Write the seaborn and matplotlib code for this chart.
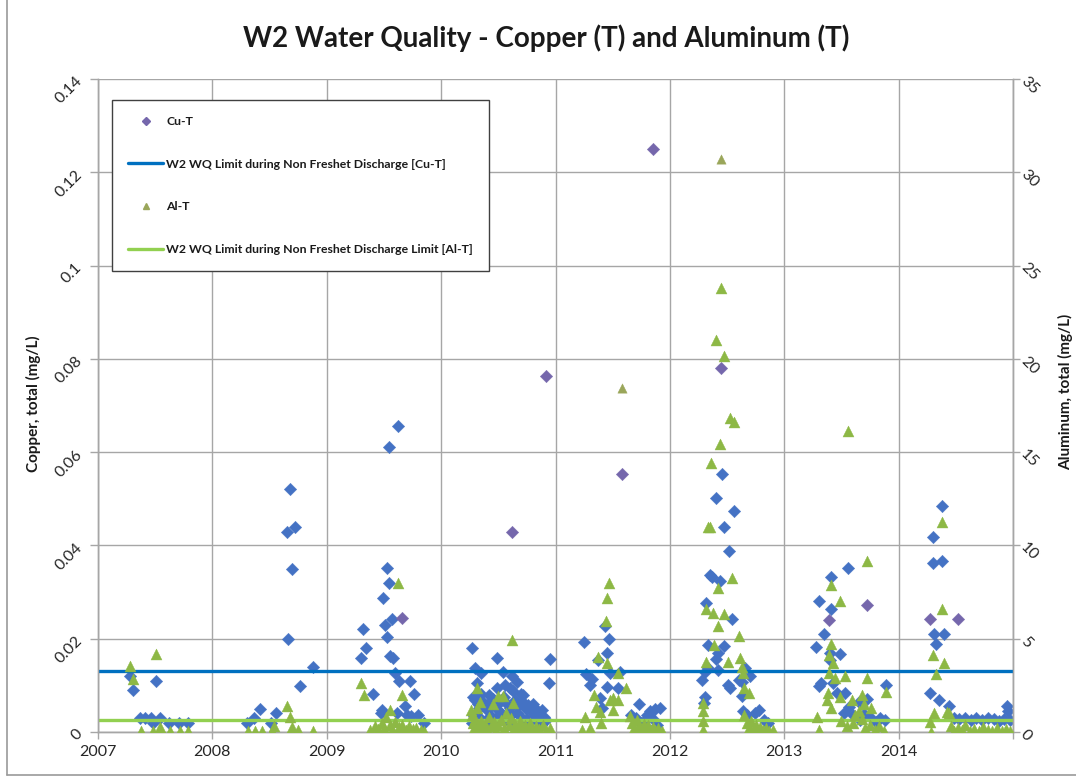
import matplotlib
matplotlib.use("Agg")
import matplotlib.pyplot as plt
from matplotlib.lines import Line2D
import seaborn as sns
import pandas as pd

# ---------------- data ----------------
# Copper, total (mg/L) - routine samples (blue diamonds)
cu_dates = [
    2007.28, 2007.31, 2007.51, 2007.37, 2007.41, 2007.46, 2007.54, 2007.48, 2007.62, 2007.71, 2007.79,
    2008.68, 2008.65, 2008.72, 2008.70, 2008.66, 2008.88, 2008.77, 2008.42, 2008.36, 2008.30, 2008.51, 2008.56,
    2009.62, 2009.54, 2009.53, 2009.54, 2009.49, 2009.57, 2009.51, 2009.32, 2009.53, 2009.34, 2009.30, 2009.55,
    2009.58, 2009.60, 2009.63, 2009.73, 2009.76, 2009.40, 2009.68, 2009.48, 2009.47, 2009.61, 2009.70, 2009.80,
    2009.74, 2009.85,
    2010.27, 2010.49, 2010.95, 2010.30, 2010.54, 2010.35, 2010.62, 2010.66, 2010.94, 2010.31, 2010.56, 2010.49,
    2010.70, 2010.35, 2010.42, 2010.28, 2010.30, 2010.32, 2010.33, 2010.36, 2010.38, 2010.40, 2010.43, 2010.45,
    2010.47, 2010.50, 2010.52, 2010.55, 2010.58, 2010.60, 2010.63, 2010.65, 2010.68, 2010.72, 2010.74, 2010.76,
    2010.79, 2010.81, 2010.84, 2010.86, 2010.88, 2010.90, 2010.92, 2010.29, 2010.34, 2010.39, 2010.44, 2010.48,
    2010.53, 2010.57, 2010.61, 2010.66, 2010.70, 2010.75, 2010.80, 2010.85, 2010.27, 2010.41, 2010.59, 2010.73,
    2010.87, 2010.60, 2010.72, 2010.80,
    2011.43, 2011.25, 2011.47, 2011.45, 2011.37, 2011.27, 2011.48, 2011.56, 2011.32, 2011.30, 2011.45, 2011.55,
    2011.39, 2011.41, 2011.73, 2011.66, 2011.80, 2011.87, 2011.91, 2011.83, 2011.78, 2011.70, 2011.75, 2011.85,
    2011.89,
    2012.46, 2012.40, 2012.56, 2012.47, 2012.52, 2012.35, 2012.37, 2012.44, 2012.32, 2012.54, 2012.33, 2012.47,
    2012.42, 2012.40, 2012.33, 2012.31, 2012.28, 2012.42, 2012.66, 2012.70, 2012.60, 2012.63, 2012.51, 2012.53,
    2012.63, 2012.31, 2012.30, 2012.64, 2012.67, 2012.78, 2012.74, 2012.86, 2012.82,
    2013.56, 2013.41, 2013.30, 2013.41, 2013.35, 2013.28, 2013.49, 2013.40, 2013.40, 2013.32, 2013.30, 2013.43,
    2013.46, 2013.53, 2013.72, 2013.57, 2013.65, 2013.89, 2013.52, 2013.60, 2013.66, 2013.70, 2013.76, 2013.80,
    2013.84, 2013.88,
    2014.38, 2014.30, 2014.30, 2014.38, 2014.31, 2014.40, 2014.33, 2014.27, 2014.35, 2014.44, 2014.48, 2014.53,
    2014.58, 2014.63, 2014.68, 2014.73, 2014.78, 2014.83, 2014.88, 2014.92, 2014.95, 2014.96, 2014.97,
]
cu_values = [
    0.0119, 0.0090, 0.0109, 0.0029, 0.0029, 0.0029, 0.0029, 0.0019, 0.0019, 0.0019, 0.0019,
    0.0520, 0.0428, 0.0439, 0.0349, 0.0199, 0.0139, 0.0099, 0.0049, 0.0031, 0.0019, 0.0019, 0.0040,
    0.0655, 0.0610, 0.0351, 0.0319, 0.0287, 0.0242, 0.0229, 0.0220, 0.0203, 0.0181, 0.0159, 0.0164,
    0.0159, 0.0126, 0.0109, 0.0109, 0.0081, 0.0081, 0.0056, 0.0047, 0.0040, 0.0040, 0.0036, 0.0036,
    0.0034, 0.0019,
    0.0181, 0.0159, 0.0157, 0.0138, 0.0129, 0.0126, 0.0119, 0.0108, 0.0104, 0.0104, 0.0101, 0.0094,
    0.0081, 0.0082, 0.0080, 0.0075, 0.0068, 0.0060, 0.0052, 0.0066, 0.0058, 0.0047, 0.0062, 0.0071,
    0.0055, 0.0048, 0.0066, 0.0074, 0.0060, 0.0052, 0.0088, 0.0069, 0.0057, 0.0064, 0.0049, 0.0058,
    0.0045, 0.0054, 0.0043, 0.0038, 0.0047, 0.0032, 0.0025, 0.0035, 0.0030, 0.0026, 0.0034, 0.0029,
    0.0038, 0.0031, 0.0036, 0.0040, 0.0033, 0.0028, 0.0030, 0.0022, 0.0020, 0.0018, 0.0021, 0.0017,
    0.0015, 0.0094, 0.0079, 0.0061,
    0.0228, 0.0194, 0.0199, 0.0170, 0.0154, 0.0124, 0.0126, 0.0129, 0.0113, 0.0101, 0.0097, 0.0095,
    0.0072, 0.0051, 0.0060, 0.0036, 0.0036, 0.0049, 0.0051, 0.0044, 0.0026, 0.0030, 0.0020, 0.0028,
    0.0015,
    0.0553, 0.0502, 0.0474, 0.0440, 0.0388, 0.0337, 0.0333, 0.0324, 0.0276, 0.0242, 0.0187, 0.0184,
    0.0169, 0.0156, 0.0137, 0.0129, 0.0111, 0.0133, 0.0137, 0.0120, 0.0111, 0.0107, 0.0101, 0.0094,
    0.0077, 0.0076, 0.0062, 0.0044, 0.0036, 0.0047, 0.0040, 0.0019, 0.0026,
    0.0352, 0.0332, 0.0281, 0.0263, 0.0210, 0.0182, 0.0167, 0.0169, 0.0154, 0.0104, 0.0099, 0.0106,
    0.0083, 0.0083, 0.0070, 0.0054, 0.0065, 0.0101, 0.0040, 0.0036, 0.0025, 0.0038, 0.0030, 0.0022,
    0.0030, 0.0026,
    0.0485, 0.0417, 0.0362, 0.0367, 0.0210, 0.0210, 0.0188, 0.0083, 0.0069, 0.0056, 0.0030, 0.0028,
    0.0030, 0.0026, 0.0029, 0.0025, 0.0030, 0.0027, 0.0024, 0.0028, 0.0056, 0.0044, 0.0026,
]

# Copper, total (mg/L) - Cu-T series (purple diamonds)
cut_dates = [2009.66, 2010.62, 2010.92, 2011.58, 2011.85, 2012.45, 2013.39, 2013.72, 2014.27, 2014.52]
cut_values = [0.0245, 0.0428, 0.0763, 0.0553, 0.1249, 0.0780, 0.0240, 0.0272, 0.0243, 0.0242]

# Aluminum, total (mg/L) - green triangles
al_dates = [
    2007.28, 2007.31, 2007.51, 2007.38, 2007.48, 2007.54, 2007.55, 2007.63, 2007.72, 2007.79,
    2008.65, 2008.68, 2008.70, 2008.75, 2008.54, 2008.31, 2008.37, 2008.43, 2008.52, 2008.88,
    2009.62, 2009.30, 2009.33, 2009.66, 2009.55, 2009.38, 2009.42, 2009.45, 2009.48, 2009.50, 2009.52,
    2009.55, 2009.57, 2009.60, 2009.63, 2009.66, 2009.69, 2009.72, 2009.75, 2009.78, 2009.82, 2009.85,
    2010.62, 2010.31, 2010.50, 2010.54, 2010.63, 2010.26, 2010.31, 2010.27, 2010.28, 2010.29, 2010.30,
    2010.32, 2010.33, 2010.35, 2010.36, 2010.38, 2010.40, 2010.42, 2010.44, 2010.46, 2010.48, 2010.50,
    2010.52, 2010.55, 2010.57, 2010.59, 2010.61, 2010.63, 2010.65, 2010.67, 2010.69, 2010.71, 2010.73,
    2010.76, 2010.78, 2010.80, 2010.83, 2010.86, 2010.89, 2010.92, 2010.95, 2010.34, 2010.45,
    2011.47, 2011.45, 2011.44, 2011.37, 2011.45, 2011.55, 2011.62, 2011.34, 2011.50, 2011.55, 2011.48,
    2011.35, 2011.39, 2011.50, 2011.26, 2011.40, 2011.23, 2011.30, 2011.65, 2011.67, 2011.69, 2011.71,
    2011.73, 2011.75, 2011.77, 2011.79, 2011.81, 2011.83, 2011.85, 2011.87, 2011.90, 2011.93,
    2012.45, 2012.40, 2012.47, 2012.53, 2012.56, 2012.44, 2012.36, 2012.33, 2012.35, 2012.54, 2012.42,
    2012.32, 2012.38, 2012.47, 2012.42, 2012.60, 2012.39, 2012.32, 2012.51, 2012.61, 2012.64, 2012.63,
    2012.65, 2012.69, 2012.29, 2012.29, 2012.29, 2012.29, 2012.65, 2012.67, 2012.69, 2012.71, 2012.73,
    2012.75, 2012.77, 2012.79, 2012.81, 2012.84, 2012.87, 2012.90,
    2013.56, 2013.72, 2013.41, 2013.49, 2013.41, 2013.39, 2013.43, 2013.39, 2013.53, 2013.72, 2013.44,
    2013.89, 2013.38, 2013.37, 2013.41, 2013.49, 2013.59, 2013.68, 2013.70, 2013.76, 2013.29, 2013.30,
    2013.62, 2013.60, 2013.68, 2013.71, 2013.75, 2013.79, 2013.83, 2013.87, 2013.50, 2013.55, 2013.65,
    2014.38, 2014.38, 2014.30, 2014.40, 2014.33, 2014.31, 2014.44, 2014.27, 2014.28, 2014.42, 2014.46,
    2014.48, 2014.52, 2014.55, 2014.58, 2014.62, 2014.66, 2014.70, 2014.74, 2014.78, 2014.82, 2014.86,
    2014.90, 2014.94, 2014.97,
]
al_values = [
    3.54, 2.82, 4.18, 0.05, 0.05, 0.29, 0.05, 0.05, 0.05, 0.05,
    1.39, 0.82, 0.25, 0.11, 0.32, 0.05, 0.05, 0.05, 0.05, 0.05,
    8.00, 2.61, 1.98, 1.98, 1.18, 0.10, 0.30, 0.15, 0.50, 0.20, 0.80,
    0.35, 0.10, 0.55, 0.25, 0.40, 0.10, 0.30, 0.15, 0.20, 0.10, 0.05,
    4.93, 2.37, 1.93, 1.93, 1.54, 1.18, 1.27, 0.90, 0.50, 0.20, 0.70,
    0.35, 0.10, 0.60, 0.25, 0.45, 0.15, 0.80, 0.30, 0.55, 0.10, 0.40,
    0.65, 0.20, 1.00, 0.35, 0.75, 0.10, 0.45, 0.25, 0.60, 0.15, 0.40,
    0.20, 0.50, 0.10, 0.30, 0.15, 0.35, 0.10, 0.20, 1.60, 1.50,
    8.00, 7.20, 5.95, 4.04, 3.68, 3.14, 2.34, 1.98, 1.80, 1.70, 1.70,
    1.36, 1.09, 1.18, 0.82, 0.46, 0.11, 0.20, 0.85, 0.50, 0.20, 0.65,
    0.30, 0.10, 0.45, 0.15, 0.35, 0.05, 0.25, 0.10, 0.20, 0.05,
    23.80, 21.00, 20.15, 16.84, 16.63, 15.43, 14.43, 10.97, 10.97, 8.27, 7.70,
    6.58, 6.36, 6.31, 5.68, 5.14, 4.66, 3.77, 3.77, 3.95, 3.14, 3.50,
    2.34, 2.07, 1.55, 1.10, 0.60, 0.10, 0.90, 0.50, 0.20, 0.60, 0.10,
    0.35, 0.05, 0.25, 0.10, 0.20, 0.05, 0.10,
    16.15, 9.18, 7.88, 7.02, 4.70, 4.13, 3.68, 3.14, 3.00, 2.88, 2.88,
    2.16, 2.10, 1.70, 1.30, 1.85, 1.70, 2.00, 1.50, 1.30, 0.82, 0.11,
    0.90, 0.50, 0.70, 0.20, 0.40, 0.10, 0.30, 0.05, 0.60, 0.30, 1.10,
    11.24, 6.57, 4.13, 3.68, 3.11, 1.00, 1.00, 0.55, 0.00, 1.09, 0.30,
    0.05, 0.20, 0.10, 0.35, 0.05, 0.15, 0.05, 0.25, 0.10, 0.05, 0.20,
    0.05, 0.15, 0.05,
]

# Aluminum, total (mg/L) - Al-T series (olive triangles)
alt_dates = [2011.58, 2012.45]
alt_values = [18.45, 30.70]

# Discharge limits
cu_limit = 0.013
al_limit = 0.65

year_ticks = [2007, 2008, 2009, 2010, 2011, 2012, 2013, 2014]
cu_ticks = [0, 0.02, 0.04, 0.06, 0.08, 0.1, 0.12, 0.14]
cu_tick_labels = ["0", "0.02", "0.04", "0.06", "0.08", "0.1", "0.12", "0.14"]
al_ticks = [0, 5, 10, 15, 20, 25, 30, 35]

labels = [
    "Cu-T",
    "W2 WQ Limit during Non Freshet Discharge [Cu-T]",
    "Al-T",
    "W2 WQ Limit during Non Freshet Discharge Limit [Al-T]",
]

# ---------------- style ----------------
sns.set_theme(style="white")
plt.rcParams["font.family"] = ["Lato", "DejaVu Sans"]

BLUE = "#4472C4"
PURPLE = "#7567AC"
GREEN = "#8DB845"
OLIVE = "#9AA65A"
CU_LINE = "#0070C0"
AL_LINE = "#92D050"
GRID = "#A6A6A6"

W, H = 1076, 777
fig = plt.figure(figsize=(W / 100, H / 100), dpi=100)
fig.patch.set_facecolor("white")

L, R, T, B = 98, 1013, 79, 732
ax = fig.add_axes([L / W, 1 - B / H, (R - L) / W, (B - T) / H])
ax2 = ax.twinx()

cu_df = pd.DataFrame({"date": cu_dates, "cu": cu_values})
cut_df = pd.DataFrame({"date": cut_dates, "cu": cut_values})
al_df = pd.DataFrame({"date": al_dates, "al": al_values})
alt_df = pd.DataFrame({"date": alt_dates, "al": alt_values})

# copper on the left axis
ax.axhline(cu_limit, color=CU_LINE, lw=2.4, zorder=3)
sns.scatterplot(data=cu_df, x="date", y="cu", ax=ax, marker="D", s=40,
                color=BLUE, edgecolor=BLUE, linewidth=0.3, zorder=2, legend=False)
sns.scatterplot(data=cut_df, x="date", y="cu", ax=ax, marker="D", s=40,
                color=PURPLE, edgecolor=PURPLE, linewidth=0.3, zorder=2, legend=False)

# aluminum on the right axis
ax2.axhline(al_limit, color=AL_LINE, lw=2.4, zorder=2)
sns.scatterplot(data=al_df, x="date", y="al", ax=ax2, marker="^", s=62,
                color=GREEN, edgecolor=GREEN, linewidth=0.3, zorder=3, legend=False)
sns.scatterplot(data=alt_df, x="date", y="al", ax=ax2, marker="^", s=45,
                color=OLIVE, edgecolor=OLIVE, linewidth=0.3, zorder=3, legend=False)

# axes limits and grid
ax.set_xlim(2007, 2015)
ax.set_ylim(0, 0.14)
ax2.set_ylim(0, 35)
ax.set_xticks(year_ticks + [2015])
ax.set_xticklabels([str(y) for y in year_ticks] + [""])
ax.set_yticks(cu_ticks)
ax.set_yticklabels(cu_tick_labels)
ax2.set_yticks(al_ticks)
ax2.set_yticklabels([str(v) for v in al_ticks])

ax.grid(True, color=GRID, lw=1.0)
ax.set_axisbelow(True)
ax.set_facecolor("white")
for a in (ax, ax2):
    for side in a.spines:
        a.spines[side].set_color(GRID)
        a.spines[side].set_linewidth(1.0)
    a.spines["top"].set_visible(False)
ax.set_xlabel("")
ax.set_ylabel("")
ax2.set_ylabel("")

ax.tick_params(axis="x", direction="out", length=5, width=1, color=GRID,
               labelsize=11.5, labelcolor="#262626", pad=4, bottom=True)
ax.tick_params(axis="y", direction="out", length=6, width=1, color=GRID,
               labelsize=11.5, labelcolor="#262626", pad=7, left=True)
ax2.tick_params(axis="y", direction="out", length=5, width=1, color=GRID,
                labelsize=11.5, labelcolor="#262626", pad=2, right=True)
for lab in ax.get_yticklabels():
    lab.set_rotation(45)
    lab.set_rotation_mode("anchor")
    lab.set_ha("right")
    lab.set_va("center")
for lab in ax2.get_yticklabels():
    lab.set_rotation(-45)
    lab.set_rotation_mode("anchor")
    lab.set_ha("left")
    lab.set_va("center")

# titles and axis labels
fig.text(546 / W, 1 - 38 / H, "W2 Water Quality - Copper (T) and Aluminum (T)",
         ha="center", va="center", fontsize=20, fontweight="bold", color="#1a1a1a")
fig.text(33 / W, 1 - 404 / H, "Copper, total (mg/L)", rotation=90,
         ha="center", va="center", fontsize=11, fontweight="bold", color="#1a1a1a")
fig.text(1066 / W, 1 - 392 / H, "Aluminum, total (mg/L)", rotation=90,
         ha="center", va="center", fontsize=11, fontweight="bold", color="#1a1a1a")

# chart-area frame on the left and bottom
fig.add_artist(Line2D([7 / W, 7 / W], [1 - 775 / H, 1.0], transform=fig.transFigure,
                      color="#9a9a9a", lw=1.2))
fig.add_artist(Line2D([7 / W, 1.0], [1 - 775 / H, 1 - 775 / H], transform=fig.transFigure,
                      color="#9a9a9a", lw=1.2))

# legend
handles = [
    Line2D([], [], marker="D", ls="none", color=PURPLE, markersize=4.5),
    Line2D([], [], color=CU_LINE, lw=2.4),
    Line2D([], [], marker="^", ls="none", color=OLIVE, markersize=5),
    Line2D([], [], color=AL_LINE, lw=2.4),
]
leg = ax2.legend(handles, labels, loc="upper left",
                 bbox_to_anchor=(112 / W, 1 - 100 / H), bbox_transform=fig.transFigure,
                 frameon=True, fancybox=False, framealpha=1, edgecolor="#404040",
                 borderpad=1.3, labelspacing=2.6, handlelength=2.9, handletextpad=0.25,
                 borderaxespad=0, prop={"weight": "bold", "size": 8.8})
leg.get_frame().set_linewidth(1.0)
for t in leg.get_texts():
    t.set_color("#1a1a1a")

fig.savefig("out.png", dpi=100, facecolor="white")
